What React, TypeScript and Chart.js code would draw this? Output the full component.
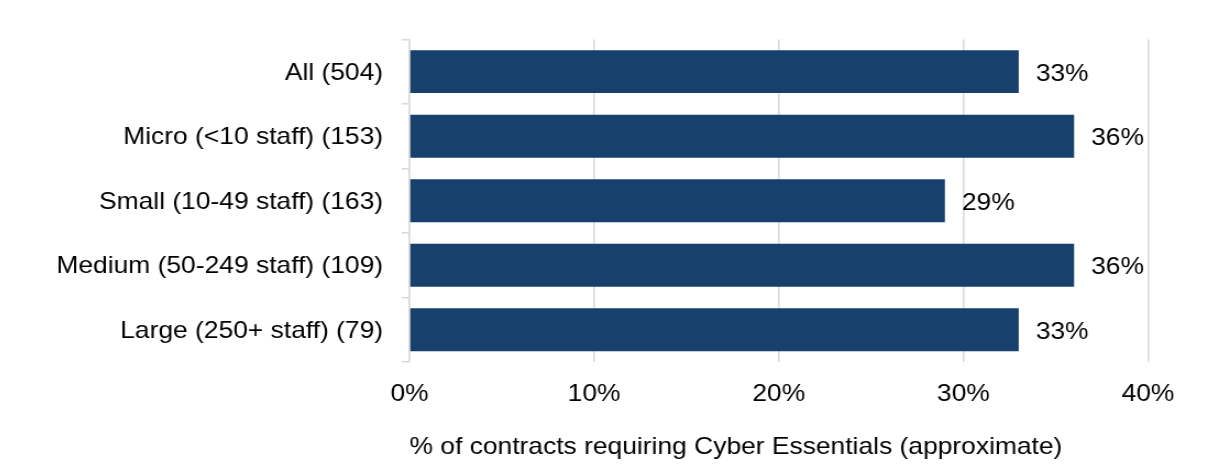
import React, { useEffect, useRef } from 'react';
import { Chart, registerables } from 'chart.js';

Chart.register(...registerables);

const categories = [
  'All (504)',
  'Micro (<10 staff) (153)',
  'Small (10-49 staff) (163)',
  'Medium (50-249 staff) (109)',
  'Large (250+ staff) (79)',
];
const values = [33, 36, 29, 36, 33];
const xTicks = [0, 10, 20, 30, 40];
const axisTitle = '% of contracts requiring Cyber Essentials (approximate)';

const STRETCH = 1.1;
const PAGE_W = 1189;
const PAGE_H = 458;
const FONT_FAMILY = "'Liberation Sans', Arial, Helvetica, sans-serif";

export default function App() {
  const ref = useRef<HTMLCanvasElement>(null);

  useEffect(() => {
    const canvas = ref.current!;
    const font = { family: FONT_FAMILY, size: 24 };
    const labelPlugin = {
      id: 'barLabels',
      afterDatasetsDraw(chart: any) {
        const ctx = chart.ctx;
        const meta = chart.getDatasetMeta(0);
        ctx.save();
        ctx.font = `24px ${FONT_FAMILY}`;
        ctx.fillStyle = '#000';
        ctx.textAlign = 'left';
        ctx.textBaseline = 'middle';
        meta.data.forEach((bar: any, i: number) => {
          ctx.fillText(values[i] + '%', bar.x + 15.5, bar.y + 2.5);
        });
        ctx.restore();
      },
    };
    const chart = new Chart(canvas, {
      type: 'bar',
      data: {
        labels: categories,
        datasets: [
          {
            data: values,
            backgroundColor: '#17406d',
            categoryPercentage: 1,
            barPercentage: 0.665,
          },
        ],
      },
      options: {
        indexAxis: 'y',
        animation: false,
        responsive: false,
        devicePixelRatio: 1,
        layout: { padding: { left: 27, right: 44.6, top: 31, bottom: 0 } },
        plugins: { legend: { display: false }, tooltip: { enabled: false } },
        scales: {
          x: {
            min: 0,
            max: 40,
            afterBuildTicks: (s: any) => {
              s.ticks = xTicks.map((v) => ({ value: v }));
            },
            ticks: { callback: (v: any) => v + '%', font, color: '#000', padding: 18 },
            grid: { color: '#d9d9d9', lineWidth: 1.5, drawTicks: false },
            border: { display: false },
            title: {
              display: true,
              text: axisTitle,
              align: 'start',
              font,
              color: '#000',
              padding: { top: 6.4, bottom: 4 },
            },
          },
          y: {
            ticks: { font, color: '#000', padding: 17, labelOffset: 1.5 },
            grid: {
              offset: true,
              drawOnChartArea: false,
              drawTicks: true,
              tickLength: 7,
              color: '#d9d9d9',
              lineWidth: 1.5,
            },
            border: { display: true, color: '#d9d9d9', width: 1.5 },
          },
        },
      } as any,
      plugins: [labelPlugin],
    });
    return () => chart.destroy();
  }, []);

  return (
    <div style={{ height: PAGE_H - 8 }}>
      <div style={{ position: 'fixed', left: 8, top: 8, width: PAGE_W, height: PAGE_H }}>
        <canvas
          ref={ref}
          width={Math.round(PAGE_W / STRETCH)}
          height={PAGE_H}
          style={{ width: PAGE_W + 'px', height: PAGE_H + 'px', display: 'block' }}
        />
      </div>
    </div>
  );
}
